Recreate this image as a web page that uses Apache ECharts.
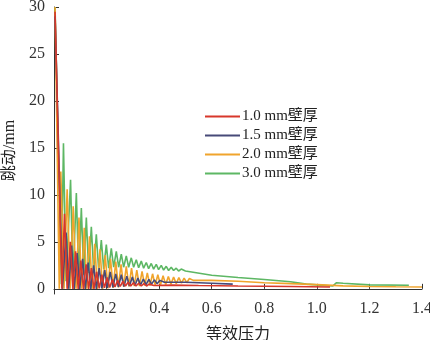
<!DOCTYPE html>
<html>
<head>
<meta charset="utf-8">
<script src="https://cdn.jsdelivr.net/npm/echarts@6/dist/echarts.min.js"></script>
<style>
  html, body { margin: 0; padding: 0; background: #fff; }
  #chart { width: 430px; height: 340px; }
</style>
</head>
<body>
<div id="chart"></div>
<script>
// 图例名称
const seriesNames = ['1.0 mm壁厚', '1.5 mm壁厚', '2.0 mm壁厚', '3.0 mm壁厚'];
const xTicks = [0.2, 0.4, 0.6, 0.8, 1.0, 1.2, 1.4];
const yTicks = [0, 5, 10, 15, 20, 25, 30];

// [等效压力, 跳动]
const wall10 = [[0.004,29.5],[0.03,0],[0.04,8.0],[0.05,0],[0.062,5.0],[0.072,0],[0.082,4.0],[0.092,0],[0.102,3.0],[0.112,0],[0.122,2.6],[0.132,0],[0.142,2.2],[0.152,0],[0.162,1.8],[0.172,0.05],[0.182,1.5],[0.192,0.1],[0.202,1.2],[0.212,0.15],[0.222,1.0],[0.232,0.2],[0.242,0.9],[0.252,0.25],[0.262,0.8],[0.272,0.3],[0.282,0.7],[0.292,0.3],[0.302,0.65],[0.312,0.3],[0.322,0.6],[0.332,0.3],[0.342,0.55],[0.352,0.3],[0.362,0.5],[0.38,0.35],[0.45,0.4],[0.55,0.35],[0.7,0.3],[0.9,0.25],[1.05,0.2]];
const wall15 = [[0.004,29],[0.032,0],[0.046,6.0],[0.056,0],[0.067,4.6],[0.077,0],[0.088,3.8],[0.098,0],[0.109,3.2],[0.119,0],[0.13,2.8],[0.14,0],[0.151,2.5],[0.161,0],[0.172,2.2],[0.182,0.05],[0.193,2.0],[0.203,0.1],[0.214,1.8],[0.224,0.15],[0.235,1.6],[0.245,0.2],[0.256,1.5],[0.266,0.25],[0.277,1.35],[0.287,0.3],[0.298,1.25],[0.308,0.35],[0.319,1.15],[0.329,0.4],[0.34,1.05],[0.35,0.45],[0.361,1.0],[0.371,0.5],[0.382,0.95],[0.392,0.55],[0.403,0.9],[0.42,0.7],[0.5,0.7],[0.6,0.6],[0.68,0.5]];
const wall20 = [[0.004,30],[0.02,0],[0.026,12.5],[0.038,0],[0.05,10.6],[0.062,0],[0.073,8.8],[0.084,0],[0.095,7.6],[0.105,0],[0.115,6.5],[0.125,0],[0.135,5.6],[0.145,0],[0.155,4.8],[0.165,0],[0.175,4.2],[0.185,0],[0.195,3.6],[0.205,0.05],[0.215,3.2],[0.225,0.1],[0.235,2.9],[0.245,0.15],[0.255,2.6],[0.265,0.2],[0.275,2.4],[0.285,0.25],[0.295,2.2],[0.305,0.3],[0.315,2.0],[0.325,0.3],[0.335,1.85],[0.345,0.35],[0.355,1.7],[0.365,0.35],[0.375,1.6],[0.385,0.4],[0.395,1.5],[0.405,0.4],[0.415,1.4],[0.425,0.45],[0.435,1.3],[0.445,0.5],[0.455,1.25],[0.465,0.55],[0.475,1.2],[0.485,0.6],[0.495,1.15],[0.505,0.65],[0.515,1.1],[0.53,0.9],[0.6,0.9],[0.7,0.8],[0.8,0.65],[0.9,0.55],[1.0,0.45],[1.1,0.32],[1.2,0.25],[1.3,0.22],[1.4,0.2]];
const wall30 = [[0.004,30],[0.028,0.5],[0.036,15.5],[0.046,0.8],[0.063,11.6],[0.072,1.0],[0.085,10.2],[0.094,1.3],[0.104,8.6],[0.113,1.5],[0.123,7.6],[0.132,1.7],[0.142,6.6],[0.151,1.9],[0.161,5.8],[0.17,2.0],[0.18,5.2],[0.189,2.1],[0.199,4.7],[0.208,2.2],[0.218,4.3],[0.227,2.3],[0.237,4.0],[0.246,2.3],[0.256,3.7],[0.265,2.3],[0.275,3.5],[0.284,2.3],[0.294,3.3],[0.303,2.3],[0.313,3.1],[0.322,2.25],[0.332,2.95],[0.341,2.2],[0.351,2.8],[0.36,2.15],[0.37,2.7],[0.379,2.1],[0.389,2.6],[0.398,2.05],[0.408,2.5],[0.417,2.0],[0.427,2.4],[0.436,1.95],[0.446,2.3],[0.455,1.95],[0.465,2.2],[0.474,1.9],[0.484,2.1],[0.5,1.9],[0.6,1.45],[0.7,1.2],[0.8,1.0],[0.9,0.75],[0.96,0.5],[1.0,0.42],[1.06,0.3],[1.075,0.65],[1.1,0.6],[1.2,0.42],[1.35,0.38]];

const colors = ['#d8372b', '#474a78', '#f0a42c', '#5db764'];
const serif = "'Liberation Serif', 'DejaVu Serif', 'Noto Sans CJK SC', serif";

const chart = echarts.init(document.getElementById('chart'));

function line(name, data, color, z) {
  return {
    name: name,
    type: 'line',
    data: data,
    showSymbol: false,
    animation: false,
    z: z,
    lineStyle: { color: color, width: 1.6 },
    itemStyle: { color: color }
  };
}

chart.setOption({
  backgroundColor: '#fff',
  grid: { left: 54, right: 8, top: 7, bottom: 46, outerBoundsMode: 'none', containLabel: false },
  legend: {
    data: seriesNames,
    orient: 'vertical',
    left: 200,
    top: 104,
    icon: 'rect',
    itemWidth: 35,
    itemHeight: 2,
    itemGap: 4,
    textStyle: { fontFamily: serif, fontSize: 15, color: '#222', lineHeight: 14, padding: [0, 0, 0, -3] }
  },
  xAxis: {
    type: 'value',
    min: 0,
    max: 1.4,
    name: '等效压力',
    nameLocation: 'middle',
    nameGap: 33,
    nameTextStyle: { fontFamily: serif, fontSize: 16, color: '#222' },
    axisLine: { lineStyle: { color: '#333', width: 1 } },
    axisTick: { inside: true, length: 5, customValues: xTicks, lineStyle: { color: '#333' } },
    axisLabel: { customValues: xTicks, fontFamily: serif, fontSize: 16, color: '#333', margin: 7,
      formatter: v => v.toFixed(1) },
    splitLine: { show: false }
  },
  yAxis: {
    type: 'value',
    min: -0.55,
    max: 30,
    name: '跳动/mm',
    nameLocation: 'middle',
    nameGap: 36,
    nameTextStyle: { fontFamily: serif, fontSize: 16, color: '#222' },
    axisLine: { show: true, lineStyle: { color: '#333', width: 1 } },
    axisTick: { show: true, inside: true, length: 5, customValues: yTicks, lineStyle: { color: '#333' } },
    axisLabel: { customValues: yTicks, fontFamily: serif, fontSize: 16, color: '#333', margin: 9 },
    splitLine: { show: false }
  },
  series: [
    line(seriesNames[3], wall30, colors[3], 2),
    line(seriesNames[2], wall20, colors[2], 3),
    line(seriesNames[1], wall15, colors[1], 4),
    line(seriesNames[0], wall10, colors[0], 5)
  ]
});
</script>
</body>
</html>
